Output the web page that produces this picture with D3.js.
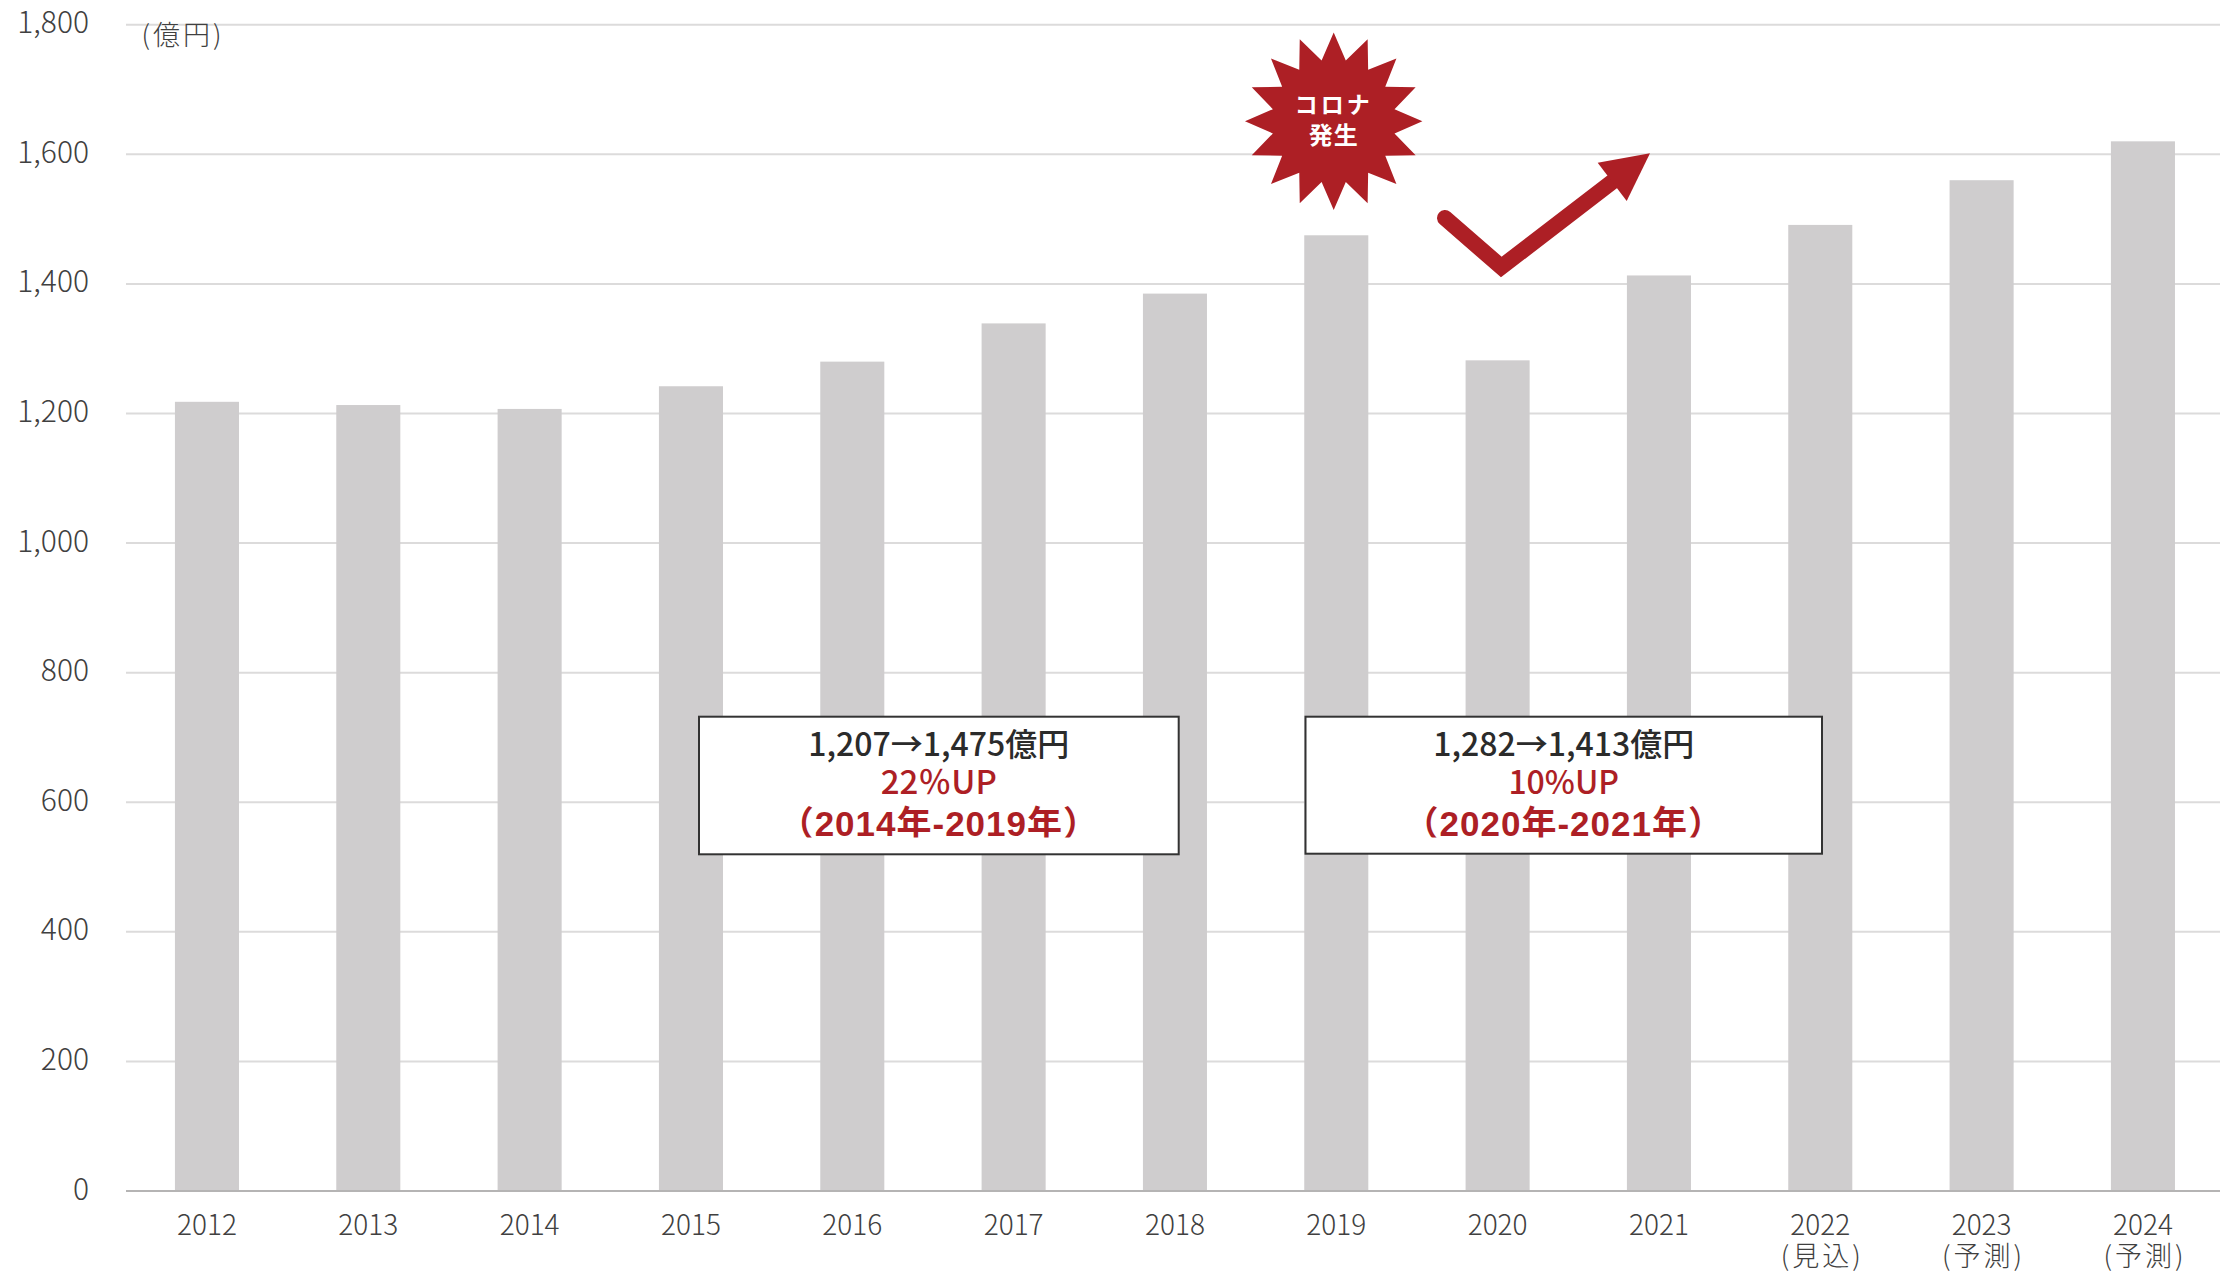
<!DOCTYPE html>
<html lang="ja">
<head>
<meta charset="utf-8">
<script src="https://cdn.jsdelivr.net/npm/d3@7/dist/d3.min.js"></script>
<style>
html,body{margin:0;padding:0;background:#fff;overflow:hidden}
svg{display:block}
text{font-family:"Noto Sans CJK JP","Noto Sans",sans-serif}
</style>
</head>
<body>
<svg id="chart" width="2220" height="1272"></svg>
<script>
// 売上推移（億円）
const years = ["2012","2013","2014","2015","2016","2017","2018","2019","2020","2021","2022","2023","2024"];
const sales = [1218,1213,1207,1242,1280,1339,1385,1475,1282,1413,1491,1560,1620];
const yearNotes = ["","","","","","","","","","","(見込)","(予測)","(予測)"];
const yTicks = [0,200,400,600,800,1000,1200,1400,1600,1800];
const unitLabel = "(億円)";
const burstLines = ["コロナ","発生"];
const callouts = [
  {lines:["1,207→1,475億円","22％UP","（2014年-2019年）"], midSize:33},
  {lines:["1,282→1,413億円","10%UP","（2020年-2021年）"], midSize:32}
];

const W = 2220, H = 1272;
const RED = "#ad1f25", BAR = "#cfcdce", GRID = "#dcdbdb", TEXT = "#404040";
const svg = d3.select("#chart");

const x = d3.scaleBand().domain(years).range([126.3, 2223.6]).paddingInner(0.603).paddingOuter(0.3015);
const y = d3.scaleLinear().domain([0,1800]).range([1191, 24.7]);

// 目盛線
svg.append("g").selectAll("line").data(yTicks.filter(d=>d>0)).join("line")
  .attr("x1",126).attr("x2",W).attr("y1",d=>y(d)).attr("y2",d=>y(d))
  .attr("stroke",GRID).attr("stroke-width",2);

// 棒
svg.append("g").selectAll("rect").data(years).join("rect")
  .attr("x",d=>x(d)).attr("width",x.bandwidth())
  .attr("y",(d,i)=>y(sales[i])).attr("height",(d,i)=>y(0)-y(sales[i]))
  .attr("fill",BAR);

// 基準線
svg.append("line").attr("x1",126).attr("x2",W).attr("y1",y(0)).attr("y2",y(0))
  .attr("stroke","#b5b4b4").attr("stroke-width",2);

// 縦軸
const yAxis = svg.append("g").attr("transform","translate(126,0)")
  .call(d3.axisLeft(y).tickValues(yTicks).tickSize(0).tickPadding(37).tickFormat(d3.format(",")));
yAxis.select(".domain").remove();
yAxis.selectAll("text").attr("font-size",30).attr("font-weight",300).attr("fill",TEXT)
  .attr("dy","0.27em").style("font-family",'"Noto Sans CJK JP",sans-serif');

svg.append("text").attr("x",183).attr("y",45).attr("text-anchor","middle")
  .attr("font-size",27).attr("font-weight",300).attr("letter-spacing",3).attr("fill",TEXT).text(unitLabel);

// 横軸（年と注記）
const xAxis = svg.append("g").attr("transform",`translate(0,${y(0)})`)
  .call(d3.axisBottom(x).tickSize(0).tickPadding(24));
xAxis.select(".domain").remove();
xAxis.selectAll("text").attr("font-size",28).attr("font-weight",300).attr("fill",TEXT)
  .style("font-family",'"Noto Sans CJK JP",sans-serif');
xAxis.selectAll(".tick").append("text")
  .attr("x",2).attr("y",75).attr("text-anchor","middle").attr("font-size",27).attr("font-weight",300)
  .attr("letter-spacing",3).attr("fill",TEXT).text((d,i)=>yearNotes[i]);

// コロナ発生の星形
const burstPoints = d3.range(32).map(i=>[i*Math.PI/16, i%2 ? 62 : 88.7]);
const burst = svg.append("g").attr("transform","translate(1333.7,121.3)");
burst.append("path").attr("d",d3.lineRadial().curve(d3.curveLinearClosed)(burstPoints)).attr("fill",RED);
burst.selectAll("text").data(burstLines).join("text")
  .attr("text-anchor","middle").attr("y",(d,i)=>i*31-8.5).attr("font-size",(d,i)=>i?24:23).attr("font-weight",700)
  .attr("letter-spacing",(d,i)=>i?1:3).attr("fill","#fff").text(d=>d);

// 回復を示す矢印
svg.append("path").attr("d",d3.line()([[1445,218],[1501.3,267],[1612,182]]))
  .attr("fill","none").attr("stroke",RED).attr("stroke-width",16)
  .attr("stroke-linecap","round").attr("stroke-linejoin","miter");
svg.append("path").attr("d",d3.line().curve(d3.curveLinearClosed)([[1650,153.3],[1597.7,162.7],[1626.7,201]])).attr("fill",RED);

// 増減の注記ボックス
const boxes = [
  {x0:699, x1:1178.7, y0:716.7, y1:854.3},
  {x0:1305.5, x1:1822, y0:716.7, y1:853.7}
];
const defs = svg.append("defs");
callouts.forEach((c,i)=>{
  const b = boxes[i], cx = (b.x0+b.x1)/2;
  svg.append("rect").attr("x",b.x0).attr("y",b.y0).attr("width",b.x1-b.x0).attr("height",b.y1-b.y0)
    .attr("fill","#fff").attr("stroke","#333").attr("stroke-width",2);
  defs.append("clipPath").attr("id","line3-"+i).append("rect")
    .attr("x",b.x0).attr("y",b.y0).attr("width",b.x1-b.x0).attr("height",837.5-b.y0);
  const g = svg.append("g").attr("clip-path",`url(#line3-${i})`);
  g.append("text").attr("x",cx).attr("y",756).attr("text-anchor","middle")
    .attr("font-size",32).attr("font-weight",500).attr("fill","#2b2b2b").text(c.lines[0]);
  g.append("text").attr("x",cx).attr("y",794).attr("text-anchor","middle")
    .attr("font-size",c.midSize).attr("font-weight",500).attr("fill",RED).text(c.lines[1]);
  g.append("text").attr("x",cx).attr("y",836).attr("text-anchor","middle")
    .attr("font-size",35).attr("font-weight",700).attr("letter-spacing",1).attr("fill",RED)
    .style("font-family",'"Liberation Sans","Noto Sans CJK JP",sans-serif').text(c.lines[2]);
});
</script>
</body>
</html>
